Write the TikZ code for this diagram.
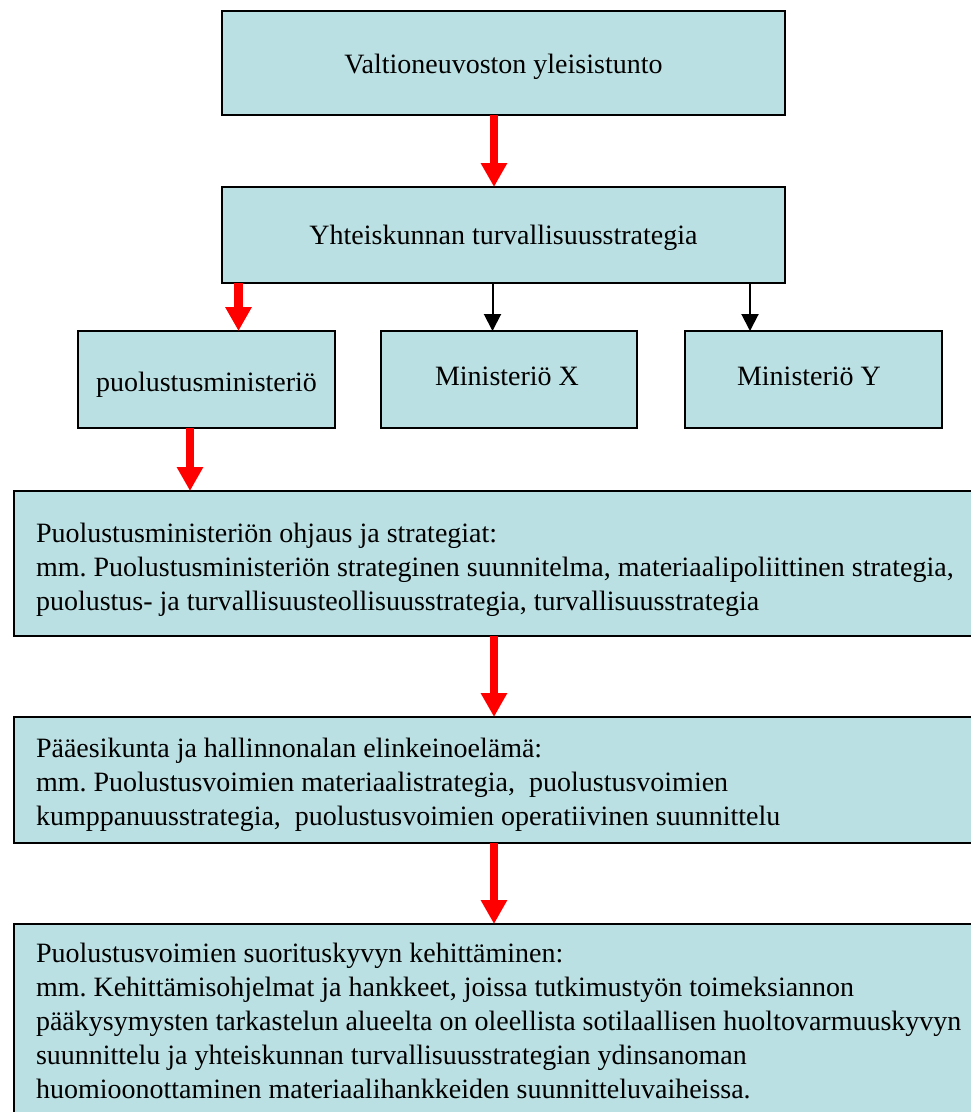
\documentclass[tikz,border=0pt]{standalone}
\usepackage{fontspec}
\setmainfont{Liberation Serif}
\usetikzlibrary{arrows.meta}
\definecolor{boxfill}{RGB}{187,224,227}
\definecolor{flowred}{RGB}{255,0,0}
\begin{document}
\frenchspacing
\begin{tikzpicture}[x=1pt,y=-1pt,
  box/.style={draw=black, line width=1.5pt, fill=boxfill, rectangle,
    inner sep=0pt, outer sep=0pt, anchor=north west},
  lbl/.style={inner sep=0pt, outer sep=0pt, font=\fontsize{28}{34}\selectfont},
  redflow/.style={draw=flowred, line width=8.5pt, -{Triangle[width=25pt,length=24pt]}},
  blackflow/.style={draw=black, line width=2pt, -{Triangle[width=17pt,length=17pt]}},
]
\useasboundingbox (0,0) rectangle (971,1112);
\clip (0,0) rectangle (971,1112);

% upper chain of boxes
\node[box, minimum width=563pt, minimum height=104pt] (vnb) at (222,11) {};
\node[box, minimum width=563pt, minimum height=96pt] (yts) at (222,187) {};
\node[box, minimum width=257pt, minimum height=97pt] (pm) at (78,331) {};
\node[box, minimum width=256pt, minimum height=97pt] (mx) at (381,331) {};
\node[box, minimum width=257pt, minimum height=97pt] (my) at (685,331) {};

% wide boxes running off the right edge
\node[box, minimum width=1000pt, minimum height=145pt] (pmo) at (14,491) {};
\node[box, minimum width=1000pt, minimum height=126pt] (pek) at (14,717) {};
\node[box, minimum width=1000pt, minimum height=220pt] (psk) at (14,924) {};

% box texts
\node[lbl, anchor=base] (vnbt) at (503.5,73) {Valtioneuvoston yleisistunto};
\node[lbl, anchor=base] (ytst) at (503.5,244) {Yhteiskunnan turvallisuusstrategia};
\node[lbl, anchor=base] (pmt) at (206.5,391) {puolustusministeriö};
\node[lbl, anchor=base] (mxt) at (507,385) {Ministeriö X};
\node[lbl, anchor=base] (myt) at (809,385) {Ministeriö Y};

\node[lbl, anchor=base west] (pmot) at (36,542) {\parbox[t]{1000pt}{\raggedright
  Puolustusministeriön ohjaus ja strategiat:\\
  mm. Puolustusministeriön strateginen suunnitelma, materiaalipoliittinen strategia,\\
  puolustus- ja turvallisuusteollisuusstrategia, turvallisuusstrategia}};

\node[lbl, anchor=base west] (pekt) at (36,757) {\parbox[t]{1000pt}{\raggedright
  Pääesikunta ja hallinnonalan elinkeinoelämä:\\
  mm. Puolustusvoimien materiaalistrategia,\ \ puolustusvoimien\\
  kumppanuusstrategia,\ \ puolustusvoimien operatiivinen suunnittelu}};

\node[lbl, anchor=base west] (pskt) at (36,962) {\parbox[t]{1000pt}{\raggedright
  Puolustusvoimien suorituskyvyn kehittäminen:\\
  mm. Kehittämisohjelmat ja hankkeet, joissa tutkimustyön toimeksiannon\\
  pääkysymysten tarkastelun alueelta on oleellista sotilaallisen huoltovarmuuskyvyn\\
  suunnittelu ja yhteiskunnan turvallisuusstrategian ydinsanoman\\
  huomioonottaminen materiaalihankkeiden suunnitteluvaiheissa.}};

% connectors
\draw[redflow] ([xshift=-9.5pt]vnb.south) -- ([xshift=-9.5pt]vnb.south |- yts.north);
\draw[redflow] ([xshift=16.5pt]yts.south west) -- ([xshift=16.5pt]yts.south west |- pm.north);
\draw[blackflow] ([xshift=-11pt]yts.south) -- ([xshift=-11pt]yts.south |- mx.north);
\draw[blackflow] ([xshift=-35pt]yts.south east) -- ([xshift=-35pt]yts.south east |- my.north);
\draw[redflow] ([xshift=-16.5pt]pm.south) -- ([xshift=-16.5pt]pm.south |- pmo.north);
\draw[redflow] ([xshift=-9.5pt]vnb.south |- pmo.south) -- ([xshift=-9.5pt]vnb.south |- pek.north);
\draw[redflow] ([xshift=-9.5pt]vnb.south |- pek.south) -- ([xshift=-9.5pt]vnb.south |- psk.north);
\end{tikzpicture}
\end{document}
